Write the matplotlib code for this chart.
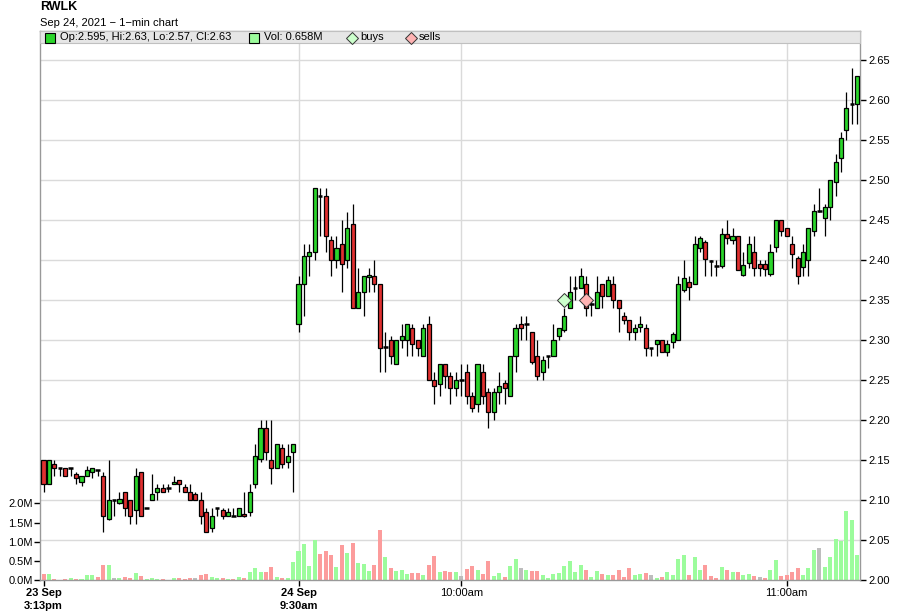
import matplotlib.pyplot as plt
import matplotlib.transforms as mtransforms
from matplotlib.patches import Rectangle
import numpy as np
import pandas as pd

plt.rcParams['font.family'] = ['Liberation Sans', 'DejaVu Sans']

symbol = 'RWLK'
subtitle = 'Sep 24, 2021 \u2212 1\u2212min chart'

# one bar per minute: end of 23 Sep session, then 24 Sep open
times = list(pd.date_range('2021-09-23 15:13', '2021-09-23 15:59', freq='min')) + \
        list(pd.date_range('2021-09-24 09:30', '2021-09-24 11:13', freq='min'))

opens = [2.15, 2.12, 2.145, 2.14, 2.14, 2.14, 2.132, 2.122, 2.13, 2.135,
         2.1375, 2.13, 2.076, 2.10, 2.096, 2.11, 2.10, 2.088, 2.135, 2.09,
         2.10, 2.11, 2.115, 2.115, 2.12, 2.125, 2.116, 2.11, 2.107, 2.10,
         2.085, 2.065, 2.09, 2.088, 2.08, 2.08, 2.08, 2.0825, 2.085, 2.12,
         2.151, 2.19, 2.15, 2.14, 2.165, 2.147, 2.16,
         2.32, 2.37, 2.405, 2.41, 2.48, 2.48, 2.425, 2.40, 2.42, 2.40,
         2.445, 2.34, 2.36, 2.379, 2.38, 2.37, 2.291, 2.30, 2.27, 2.30,
         2.30, 2.315, 2.30, 2.28, 2.32, 2.25, 2.245, 2.27, 2.255, 2.24,
         2.25, 2.26, 2.23, 2.22, 2.26, 2.235, 2.21, 2.235, 2.246, 2.23,
         2.28, 2.32, 2.32, 2.31, 2.28, 2.26, 2.28, 2.28, 2.305, 2.312,
         2.34, 2.365, 2.365, 2.37, 2.345, 2.34, 2.37, 2.355, 2.37, 2.35,
         2.33, 2.325, 2.31, 2.316, 2.315, 2.29, 2.295, 2.30, 2.285, 2.297,
         2.30, 2.362, 2.372, 2.37, 2.415, 2.423, 2.399, 2.392, 2.392, 2.433,
         2.425, 2.43, 2.381, 2.396, 2.41, 2.395, 2.395, 2.383, 2.416, 2.45,
         2.44, 2.42, 2.403, 2.391, 2.40, 2.436, 2.461, 2.453, 2.466, 2.497,
         2.527, 2.562, 2.595, 2.595]
highs = [2.15, 2.15, 2.15, 2.14, 2.14, 2.14, 2.135, 2.13, 2.142, 2.14,
         2.1375, 2.135, 2.15, 2.10, 2.11, 2.11, 2.10, 2.14, 2.135, 2.09,
         2.133, 2.12, 2.12, 2.12, 2.13, 2.125, 2.12, 2.12, 2.11, 2.11,
         2.09, 2.09, 2.09, 2.09, 2.09, 2.09, 2.09, 2.11, 2.12, 2.17,
         2.20, 2.20, 2.20, 2.17, 2.17, 2.17, 2.17,
         2.38, 2.42, 2.42, 2.49, 2.49, 2.49, 2.43, 2.43, 2.45, 2.46,
         2.47, 2.39, 2.38, 2.39, 2.40, 2.37, 2.31, 2.305, 2.30, 2.32,
         2.32, 2.32, 2.30, 2.32, 2.33, 2.26, 2.27, 2.27, 2.26, 2.26,
         2.27, 2.27, 2.235, 2.27, 2.27, 2.24, 2.24, 2.26, 2.25, 2.28,
         2.32, 2.33, 2.33, 2.31, 2.30, 2.28, 2.28, 2.32, 2.315, 2.34,
         2.38, 2.38, 2.39, 2.38, 2.35, 2.38, 2.37, 2.38, 2.38, 2.35,
         2.335, 2.325, 2.32, 2.33, 2.32, 2.29, 2.30, 2.30, 2.30, 2.31,
         2.38, 2.40, 2.38, 2.43, 2.43, 2.425, 2.40, 2.40, 2.44, 2.45,
         2.44, 2.43, 2.41, 2.43, 2.43, 2.40, 2.40, 2.42, 2.45, 2.45,
         2.44, 2.43, 2.405, 2.42, 2.44, 2.47, 2.49, 2.47, 2.50, 2.533,
         2.56, 2.61, 2.64, 2.63]
lows = [2.11, 2.12, 2.13, 2.13, 2.13, 2.13, 2.12, 2.118, 2.13, 2.128,
        2.13, 2.06, 2.075, 2.08, 2.095, 2.08, 2.07, 2.07, 2.08, 2.09,
        2.10, 2.10, 2.11, 2.11, 2.12, 2.11, 2.11, 2.10, 2.10, 2.07,
        2.06, 2.06, 2.08, 2.076, 2.08, 2.08, 2.08, 2.079, 2.08, 2.115,
        2.148, 2.15, 2.12, 2.14, 2.14, 2.14, 2.11,
        2.31, 2.33, 2.38, 2.40, 2.43, 2.41, 2.38, 2.39, 2.36, 2.39,
        2.34, 2.34, 2.33, 2.36, 2.36, 2.26, 2.26, 2.27, 2.27, 2.29,
        2.28, 2.28, 2.28, 2.28, 2.25, 2.22, 2.23, 2.24, 2.22, 2.23,
        2.23, 2.22, 2.21, 2.21, 2.22, 2.19, 2.20, 2.22, 2.22, 2.23,
        2.26, 2.30, 2.30, 2.27, 2.25, 2.25, 2.265, 2.28, 2.30, 2.31,
        2.34, 2.35, 2.365, 2.33, 2.33, 2.34, 2.34, 2.355, 2.34, 2.31,
        2.32, 2.30, 2.30, 2.31, 2.28, 2.28, 2.28, 2.285, 2.28, 2.29,
        2.30, 2.36, 2.35, 2.37, 2.41, 2.38, 2.38, 2.38, 2.39, 2.42,
        2.42, 2.388, 2.38, 2.39, 2.38, 2.38, 2.38, 2.38, 2.41, 2.43,
        2.43, 2.39, 2.37, 2.38, 2.38, 2.43, 2.46, 2.43, 2.45, 2.48,
        2.51, 2.55, 2.57, 2.57]
closes = [2.12, 2.15, 2.14, 2.14, 2.13, 2.14, 2.128, 2.13, 2.138, 2.14,
          2.1375, 2.08, 2.10, 2.10, 2.101, 2.09, 2.08, 2.13, 2.08, 2.09,
          2.108, 2.115, 2.11, 2.115, 2.122, 2.12, 2.11, 2.10, 2.10, 2.08,
          2.06, 2.08, 2.09, 2.08, 2.085, 2.08, 2.09, 2.08, 2.11, 2.155,
          2.19, 2.16, 2.14, 2.17, 2.145, 2.155, 2.17,
          2.37, 2.405, 2.41, 2.49, 2.48, 2.43, 2.40, 2.415, 2.395, 2.44,
          2.34, 2.36, 2.38, 2.381, 2.37, 2.29, 2.291, 2.28, 2.30, 2.305,
          2.32, 2.295, 2.29, 2.315, 2.25, 2.243, 2.27, 2.255, 2.24, 2.25,
          2.25, 2.23, 2.215, 2.27, 2.23, 2.21, 2.235, 2.242, 2.24, 2.28,
          2.315, 2.315, 2.32, 2.272, 2.255, 2.275, 2.28, 2.30, 2.315, 2.33,
          2.36, 2.365, 2.38, 2.34, 2.345, 2.36, 2.355, 2.375, 2.35, 2.34,
          2.325, 2.31, 2.315, 2.32, 2.29, 2.29, 2.30, 2.285, 2.295, 2.308,
          2.37, 2.378, 2.366, 2.42, 2.427, 2.401, 2.399, 2.392, 2.433, 2.427,
          2.43, 2.388, 2.394, 2.42, 2.39, 2.39, 2.389, 2.41, 2.45, 2.436,
          2.43, 2.408, 2.38, 2.41, 2.44, 2.461, 2.461, 2.466, 2.50, 2.522,
          2.552, 2.59, 2.595, 2.63]
# volume in millions of shares
volumes = [0.16, 0.16, 0.03, 0.01, 0.03, 0.05, 0.03, 0.03, 0.13, 0.13,
           0.08, 0.39, 0.39, 0.06, 0.06, 0.09, 0.06, 0.18, 0.10, 0.03,
           0.06, 0.03, 0.03, 0.01, 0.06, 0.06, 0.03, 0.06, 0.06, 0.13,
           0.16, 0.09, 0.06, 0.06, 0.03, 0.03, 0.09, 0.05, 0.22, 0.32,
           0.22, 0.22, 0.35, 0.09, 0.06, 0.06, 0.48,
           0.755, 0.94, 0.37, 1.04, 0.68, 0.755, 0.65, 0.34, 0.91, 0.70,
           0.96, 0.44, 0.42, 0.23, 0.39, 1.30, 0.60, 0.31, 0.23, 0.26,
           0.16, 0.18, 0.18, 0.13, 0.39, 0.62, 0.21, 0.23, 0.21, 0.21,
           0.10, 0.29, 0.36, 0.26, 0.16, 0.49, 0.10, 0.18, 0.08, 0.36,
           0.55, 0.31, 0.26, 0.23, 0.23, 0.13, 0.05, 0.16, 0.18, 0.36,
           0.49, 0.21, 0.39, 0.26, 0.08, 0.23, 0.16, 0.13, 0.13, 0.26,
           0.08, 0.31, 0.13, 0.16, 0.18, 0.13, 0.05, 0.08, 0.21, 0.13,
           0.55, 0.65, 0.13, 0.60, 0.26, 0.39, 0.10, 0.05, 0.34, 0.26,
           0.21, 0.21, 0.13, 0.16, 0.10, 0.08, 0.05, 0.26, 0.52, 0.10,
           0.13, 0.21, 0.31, 0.13, 0.31, 0.78, 0.83, 0.34, 0.60, 1.07,
           1.01, 1.80, 1.56, 0.658]

buy_times = ['2021-09-24 10:19']
buy_prices = [2.35]
sell_times = ['2021-09-24 10:23']
sell_prices = [2.35]

o = np.array(opens)
h = np.array(highs)
l = np.array(lows)
c = np.array(closes)
v = np.array(volumes)
x = np.arange(len(times))

UP = '#2bd52b'
DOWN = '#e03030'
VOL_UP = '#9cfc9c'
VOL_DOWN = '#fc9c9c'
VOL_FLAT = '#bdbdbd'
GRID = '#dadada'

# volume coloured by change from previous close
chg = np.sign(np.round(np.diff(c, prepend=o[0]), 4))
vol_colors = [VOL_UP if s > 0 else VOL_DOWN if s < 0 else VOL_FLAT for s in chg]

fig = plt.figure(figsize=(9, 6.16), dpi=100)
rect = [40 / 900, 36 / 616, 820 / 900, 549 / 616]
axv = fig.add_axes(rect)
ax = fig.add_axes(rect, sharex=axv)
ax.patch.set_visible(False)

ax.set_xlim(-0.65, 150.5)
ax.set_ylim(2.0, 2.0 + 549 / 800)
axv.set_ylim(0, 549 / 38.3)

# tick positions: first bar of each day, then every full hour
tick_idx, tick_lab, tick_bold = [], [], []
for i, t in enumerate(times):
    hm = t.strftime('%I:%M%p').lstrip('0').lower()
    if i == 0 or t.date() != times[i - 1].date():
        tick_idx.append(i)
        tick_lab.append(t.strftime('%d %b') + '\n' + hm)
        tick_bold.append(True)
    elif t.minute == 0:
        tick_idx.append(i)
        tick_lab.append(hm)
        tick_bold.append(False)

# grid (behind volume)
price_levels = np.arange(2.05, 2.651, 0.05)
trans = mtransforms.blended_transform_factory(axv.transAxes, ax.transData)
for p in price_levels:
    axv.plot([0, 1], [p, p], transform=trans, color=GRID, lw=1, zorder=0)
for i in tick_idx[1:]:
    axv.axvline(i, color=GRID, lw=1, zorder=0)

axv.bar(x, v, width=0.74, color=vol_colors, zorder=1)

# candles
ax.vlines(x, l, h, color='black', lw=0.9, zorder=2)
up = c > o
dn = c < o
flat = ~(up | dn)
ax.bar(x[up], (c - o)[up], bottom=o[up], width=0.75, color=UP,
       edgecolor='black', lw=0.9, zorder=3)
ax.bar(x[dn], (o - c)[dn], bottom=c[dn], width=0.75, color=DOWN,
       edgecolor='black', lw=0.9, zorder=3)
ax.hlines(c[flat], x[flat] - 0.42, x[flat] + 0.42, color='black', lw=1.8, zorder=3)

# trades
pos = {t: i for i, t in enumerate(times)}
bx = [pos[pd.Timestamp(t)] for t in buy_times]
sx = [pos[pd.Timestamp(t)] for t in sell_times]
ax.plot(bx, buy_prices, ls='none', marker='D', ms=7, mfc='#ccffcc', mec='#333333',
        mew=0.7, zorder=5)
ax.plot(sx, sell_prices, ls='none', marker='D', ms=7, mfc='#ffb3b3', mec='#333333',
        mew=0.7, zorder=5)

# axes styling
for s in axv.spines.values():
    s.set_visible(False)
for s in ax.spines.values():
    s.set_color('#999999')
    s.set_linewidth(1)

ax.yaxis.tick_right()
ax.set_yticks(np.arange(2.0, 2.651, 0.05))
ax.set_yticklabels(['%.2f' % p for p in np.arange(2.0, 2.651, 0.05)])
ax.tick_params(axis='y', length=4, width=1, pad=2, labelsize=8, color='black')

axv.set_yticks([0, 0.5, 1.0, 1.5, 2.0])
axv.set_yticklabels(['%.1fM' % q for q in [0, 0.5, 1.0, 1.5, 2.0]])
axv.tick_params(axis='y', length=4, width=1, pad=1, labelsize=8, color='black')
axv.tick_params(axis='x', bottom=False, labelbottom=False)

ax.set_xticks(tick_idx)
ax.set_xticklabels(tick_lab)
for lab, b in zip(ax.get_xticklabels(), tick_bold):
    lab.set_fontweight('bold' if b else 'normal')
    lab.set_linespacing(1.3)
ax.tick_params(axis='x', length=4, width=1, pad=2, labelsize=8, color='black')

# legend band along top of the plot
band_h = 12 / 549
ax.add_patch(Rectangle((0, 1 - band_h), 1, band_h, transform=ax.transAxes,
                       facecolor='#e6e6e6', edgecolor='#c0c0c0', lw=0.8,
                       zorder=10, clip_on=False))


def fx(px):
    return px / 900


def fy(py):
    return 1 - py / 616


ly = fy(37.5)
fig.add_artist(plt.Line2D([fx(50)], [ly], ls='none', marker='s', ms=6.5,
                          mfc=UP, mec='black', mew=0.8, transform=fig.transFigure))
fig.text(fx(60), ly, 'Op:%g, Hi:%g, Lo:%g, Cl:%g' % (o[-1], h[-1], l[-1], c[-1]),
         fontsize=8, va='center', ha='left')
fig.add_artist(plt.Line2D([fx(254)], [ly], ls='none', marker='s', ms=6.5,
                          mfc=VOL_UP, mec='black', mew=0.8, transform=fig.transFigure))
fig.text(fx(264), ly, 'Vol: %gM' % v[-1], fontsize=8, va='center', ha='left')
fig.add_artist(plt.Line2D([fx(352)], [ly], ls='none', marker='D', ms=6,
                          mfc='#ccffcc', mec='#333333', mew=0.7, transform=fig.transFigure))
fig.text(fx(360), ly, 'buys', fontsize=8, va='center', ha='left')
fig.add_artist(plt.Line2D([fx(411)], [ly], ls='none', marker='D', ms=6,
                          mfc='#ffb3b3', mec='#333333', mew=0.7, transform=fig.transFigure))
fig.text(fx(419), ly, 'sells', fontsize=8, va='center', ha='left')

fig.text(fx(40), fy(7), symbol, fontsize=9, fontweight='bold', va='center', ha='left')
fig.text(fx(40), fy(23), subtitle, fontsize=8, va='center', ha='left')

fig.savefig('out.png', dpi=100)
